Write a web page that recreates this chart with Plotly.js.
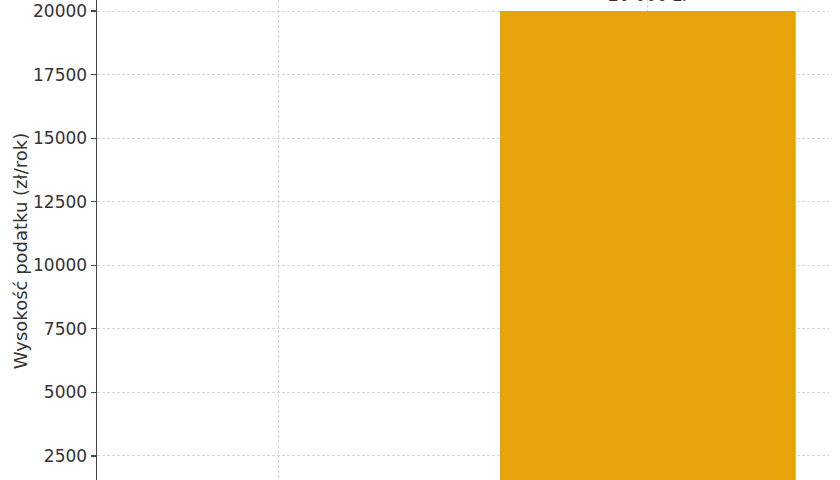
<!DOCTYPE html>
<html>
<head>
<meta charset="utf-8">
<script src="https://cdn.plot.ly/plotly-3.0.1.min.js"></script>
<style>
  html, body { margin: 0; padding: 0; background: #fff; }
  #chart { width: 840px; height: 480px; }
</style>
</head>
<body>
<div id="chart"></div>
<script>
// data
var categories = ["Obecnie", "Po zmianie"]
var taxValues = [1000, 20000]
var valueLabels = ["1 000 zł", "20 000 zł"]
var yTicks = [2500, 5000, 7500, 10000, 12500, 15000, 17500, 20000]

var fontFamily = "DejaVu Sans, sans-serif"
var textColor = "#333333"

var trace = {
	type: "bar",
	x: categories,
	y: taxValues,
	width: 0.8,
	marker: {color: "#E69F00", opacity: 0.96},
	hoverinfo: "none"
}

// value labels above the bars
var annotations = categories.map((cat, i) => {
	return {
		x: cat, y: taxValues[i],
		xref: "x", yref: "y",
		text: valueLabels[i],
		showarrow: false,
		yanchor: "bottom",
		yshift: 4,
		font: {family: fontFamily, size: 17, color: textColor}
	}
})

// y title placed by hand: the real axis is taller than this crop
annotations.push({
	xref: "paper", yref: "paper",
	x: -0.105, y: 0.477,
	xanchor: "center", yanchor: "middle",
	textangle: -90,
	text: "Wysokość podatku (zł/rok)",
	showarrow: false,
	font: {family: fontFamily, size: 18, color: textColor}
})

var layout = {
	width: 840,
	height: 480,
	margin: {l: 97, r: 11, t: 0, b: 0, pad: 0},
	paper_bgcolor: "#ffffff",
	plot_bgcolor: "#ffffff",
	showlegend: false,
	font: {family: fontFamily, size: 17, color: textColor},
	xaxis: {
		type: "category",
		categoryorder: "array",
		categoryarray: categories,
		range: [-0.49, 1.49],
		showticklabels: false,
		ticks: "",
		showgrid: true,
		gridcolor: "#d6d6d6",
		griddash: "3px,2px",
		gridwidth: 1,
		zeroline: false,
		showline: false
	},
	yaxis: {
		range: [1555, 20433],
		tickvals: yTicks,
		tickformat: "d",
		ticks: "outside",
		ticklen: 5,
		tickwidth: 1.2,
		tickcolor: "#444",
		showline: true,
		linecolor: "#444",
		linewidth: 1.5,
		showgrid: true,
		gridcolor: "#d6d6d6",
		griddash: "3px,2px",
		gridwidth: 1,
		zeroline: false,
		tickfont: {family: fontFamily, size: 17, color: textColor}
	},
	annotations: annotations
}

Plotly.newPlot("chart", [trace], layout, {displayModeBar: false, staticPlot: true})
</script>
</body>
</html>
